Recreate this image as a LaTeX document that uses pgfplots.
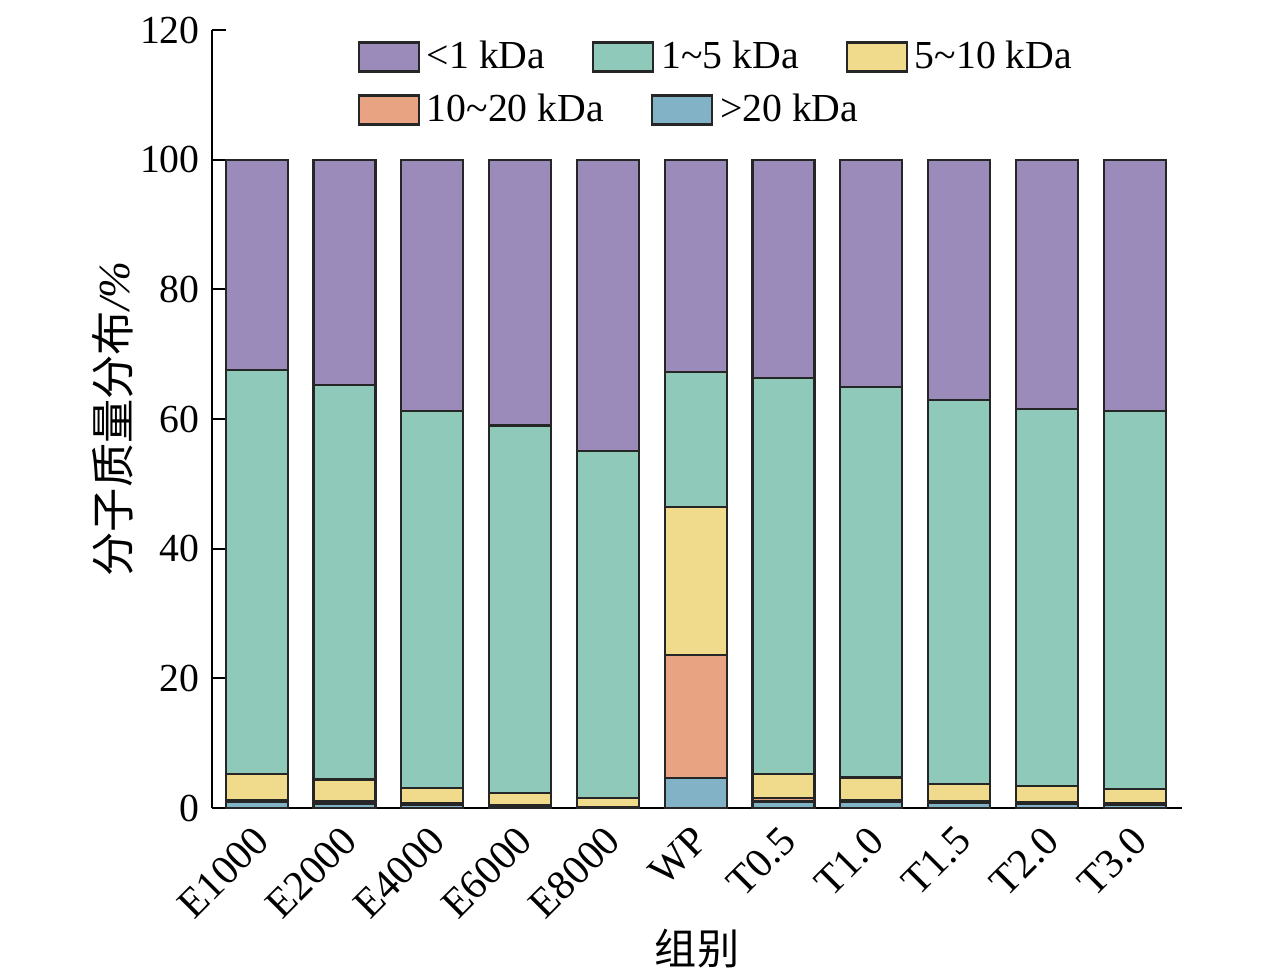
\documentclass[border=0pt]{standalone}
\usepackage{pgfplots}
\pgfplotsset{compat=1.18}
\usepackage{pgfplotstable}
\usepackage{fontspec}
\setmainfont{Liberation Serif}
\newfontfamily\cjk{Noto Sans CJK SC}
\definecolor{cP}{RGB}{155,139,186}
\definecolor{cG}{RGB}{143,201,185}
\definecolor{cY}{RGB}{240,218,140}
\definecolor{cO}{RGB}{232,163,130}
\definecolor{cB}{RGB}{130,178,198}
\pgfplotstableread{
x b o y g p
0  0.9 0.4  3.9 62.3 32.5
1  0.7 0.4  3.3 60.9 34.7
2  0.5 0.3  2.3 58.1 38.8
3  0.2 0.3  1.8 56.7 41.0
4  0.1 0.1  1.4 53.4 45.0
5  4.6 19.0 22.8 20.8 32.8
6  1.0 0.6  3.7 61.0 33.7
7  0.9 0.3  3.5 60.3 35.0
8  0.8 0.3  2.6 59.3 37.0
9  0.6 0.3  2.5 58.2 38.4
10 0.4 0.3  2.3 58.2 38.8
}\data
\begin{document}
\begin{tikzpicture}[font=\fontsize{11}{13}\selectfont]
\useasboundingbox (-2.12,-1.67) rectangle (10.64,8.08);
\pgfplotsset{
  legbox/.style={
    legend image code/.code={\draw[##1,draw=black!85,line width=0.6pt] (0cm,-0.145cm) rectangle (0.6cm,0.145cm);},
    legend style={draw=none, fill=none, inner sep=0pt, anchor=west,
      font=\fontsize{11.3}{13}\selectfont,
      /tikz/every even column/.append style={column sep=0.40cm}},
  }
}
\begin{axis}[
  at={(0,0)}, anchor=south west,
  width=9.7cm, height=7.78cm, scale only axis,
  xmin=-0.51, xmax=10.54, ymin=0, ymax=120,
  ybar stacked, bar width=0.62cm,
  axis lines*=left,
  axis line style={-, line width=0.6pt},
  ytick={0,20,...,120},
  xtick={0,...,10},
  xticklabels={E1000,E2000,E4000,E6000,E8000,WP,T0.5,T1.0,T1.5,T2.0,T3.0},
  x tick label style={rotate=45, anchor=north east, inner sep=1pt, xshift=-0.106cm, yshift=-0.035cm, font=\fontsize{11.8}{13}\selectfont},
  y tick label style={font=\fontsize{11.3}{13}\selectfont},
  tick align=inside,
  major tick length=0.14cm,
  major x tick style={draw=none},
  y tick style={line width=0.6pt, black},
  /pgf/number format/assume math mode=true,
  ylabel={{\cjk 分子质量分布}\textit{/\%}},
  ylabel style={at={(axis description cs:-0.102,0.5)}, anchor=center, font=\fontsize{12.6}{14}\selectfont},
  xlabel={{\cjk 组别}},
  xlabel style={at={(axis description cs:0.5,0)}, anchor=center, yshift=-1.41cm, font=\fontsize{12}{13}\selectfont},
  legbox,
  legend columns=3,
  legend style={at={(0.1495,0.9653)}},
]
\addlegendimage{fill=cP}\addlegendentry{<1 kDa}
\addlegendimage{fill=cG}\addlegendentry{1\textasciitilde 5 kDa}
\addlegendimage{fill=cY}\addlegendentry{5\textasciitilde 10 kDa}
\addplot[fill=cB, draw=black!85, line width=0.6pt] table[x=x,y=b]{\data};
\addplot[fill=cO, draw=black!85, line width=0.6pt] table[x=x,y=o]{\data};
\addplot[fill=cY, draw=black!85, line width=0.6pt] table[x=x,y=y]{\data};
\addplot[fill=cG, draw=black!85, line width=0.6pt] table[x=x,y=g]{\data};
\addplot[fill=cP, draw=black!85, line width=0.6pt] table[x=x,y=p]{\data};
\end{axis}
\begin{axis}[
  at={(0,0)}, anchor=south west,
  width=9.7cm, height=7.78cm, scale only axis,
  xmin=-0.51, xmax=10.54, ymin=0, ymax=120,
  hide axis,
  legbox,
  legend columns=2,
  legend style={at={(0.1495,0.8972)}},
]
\addlegendimage{fill=cO}\addlegendentry{10\textasciitilde 20 kDa}
\addlegendimage{fill=cB}\addlegendentry{>20 kDa}
\end{axis}
\end{tikzpicture}
\end{document}
